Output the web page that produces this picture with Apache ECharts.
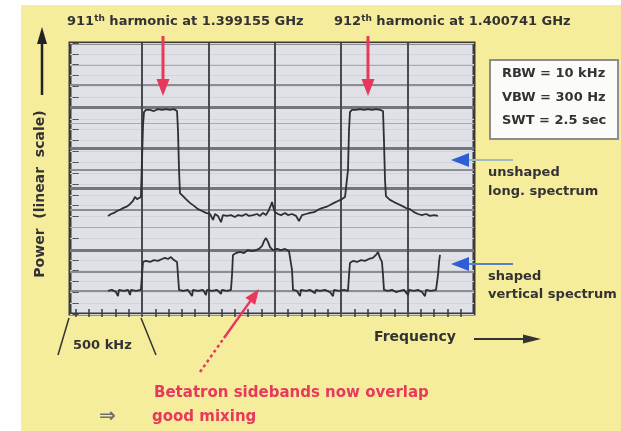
<!DOCTYPE html>
<html>
<head>
<meta charset="utf-8">
<script src="https://cdn.jsdelivr.net/npm/echarts@6/dist/echarts.min.js"></script>
<style>
  html, body { margin: 0; padding: 0; background: #ffffff; }
  #chart { width: 621px; height: 431px; }
</style>
</head>
<body>
<div id="chart"></div>
<script>
// Frequency offset across the screen in kHz (500 kHz per division); power in linear screen units (0 = bottom, 100 = top).
const unshapedSpectrum = [
  [244,36.2],[267,36.9],[289,37.3],[312,38.0],[334,38.4],[357,39.1],[380,39.5],[402,40.2],[417,40.6],[432,41.7],
  [447,43.2],[462,42.4],[477,41.7],[492,43.2],[500,56.8],[508,69.7],[515,74.5],[530,75.3],[560,75.3],[590,74.9],
  [620,75.6],[651,75.3],[681,75.6],[711,75.3],[741,75.6],[764,74.9],[771,67.9],[779,53.1],[786,44.6],[809,43.5],
  [831,42.4],[861,41.0],[892,39.9],[922,38.7],[952,38.0],[982,37.3],[1012,36.9],[1035,34.7],[1050,36.9],[1072,36.2],
  [1095,33.9],[1110,36.5],[1140,36.2],[1170,36.5],[1200,35.8],[1223,36.5],[1253,36.2],[1283,36.9],[1306,36.2],[1336,36.5],
  [1366,36.9],[1389,36.2],[1411,37.3],[1434,36.5],[1456,38.4],[1471,40.2],[1479,41.3],[1486,39.9],[1501,37.6],[1524,36.9],
  [1547,36.5],[1577,37.3],[1599,36.5],[1630,36.9],[1660,36.2],[1682,34.3],[1705,36.5],[1735,36.9],[1765,37.3],[1795,37.6],
  [1825,38.4],[1855,39.1],[1886,39.5],[1916,40.2],[1946,41.0],[1976,41.7],[2006,42.4],[2029,43.2],[2044,43.5],[2051,53.1],
  [2059,67.9],[2066,74.5],[2081,75.3],[2111,75.3],[2142,75.6],[2172,75.3],[2202,75.6],[2232,75.3],[2262,75.6],[2292,75.3],
  [2315,74.9],[2322,64.2],[2330,49.4],[2337,43.5],[2367,42.1],[2398,41.3],[2428,40.6],[2458,39.9],[2488,39.1],[2518,38.7],
  [2548,37.6],[2578,36.9],[2608,36.5],[2639,36.9],[2669,36.2],[2699,36.5],[2729,36.2]
];

const shapedSpectrum = [
  [244,8.5],[274,8.9],[304,8.1],[319,6.6],[327,8.9],[364,8.5],[395,8.9],[410,7.0],[417,8.9],[455,8.5],
  [492,8.9],[500,14.4],[508,19.2],[530,19.6],[560,19.2],[590,19.9],[620,19.6],[651,20.3],[673,20.7],[696,20.3],
  [718,21.0],[741,19.9],[764,19.2],[771,14.4],[779,8.9],[809,8.5],[846,8.9],[877,6.6],[884,8.9],[922,8.5],
  [959,8.9],[982,7.0],[989,8.9],[1027,8.5],[1065,8.9],[1095,7.4],[1102,8.9],[1140,8.5],[1170,8.9],[1178,14.4],
  [1185,21.8],[1208,22.5],[1238,22.9],[1268,22.5],[1298,23.6],[1328,23.2],[1358,23.6],[1381,24.0],[1404,25.1],[1419,26.9],
  [1434,28.0],[1449,26.6],[1464,24.7],[1486,23.6],[1517,24.0],[1547,23.6],[1577,24.0],[1607,23.2],[1622,22.9],[1630,16.2],
  [1637,8.9],[1667,8.5],[1690,6.6],[1697,8.9],[1735,8.5],[1765,8.9],[1803,7.7],[1810,8.9],[1840,8.5],[1878,8.9],
  [1916,8.1],[1938,6.6],[1946,8.9],[1983,8.5],[2021,8.9],[2051,8.5],[2059,14.4],[2066,18.8],[2089,19.6],[2119,19.2],
  [2149,19.9],[2179,19.6],[2209,20.3],[2239,20.7],[2262,21.8],[2277,22.9],[2292,20.7],[2307,19.2],[2315,14.4],[2322,8.9],
  [2352,8.5],[2383,8.9],[2413,8.1],[2443,8.5],[2473,8.9],[2503,7.0],[2511,8.9],[2548,8.5],[2578,8.9],[2608,8.1],
  [2631,6.6],[2639,8.9],[2676,8.5],[2714,8.9],[2729,14.4],[2737,19.2],[2744,21.8]
];

// Screen graticule
const divisionKHz = [500, 1000, 1500, 2000, 2500];
const heavyRulings = [76.4, 61.3, 46.5, 23.6];
const mediumRulings = [84.5, 53.1, 38.4, 15.5, 8.5];
const lightRulings = [91.9, 70.5, 32.1];
const screenKHz = { min: -42, max: 3000 };
const tickKHz = [];
for (let f = 0; f <= 2900; f += 100) tickKHz.push(f);

// Annotation texts
const harmonicLabels = [
  { n: '911', f: '1.399155' },
  { n: '912', f: '1.400741' }
];
const analyzerSettings = ['RBW = 10 kHz', 'VBW = 300 Hz', 'SWT = 2.5 sec'];

const FONT = '"DejaVu Sans", "Liberation Sans", sans-serif';
const INK = '#333333';
const RED = '#e8385c';
const BLUE = '#2d5ed6';

const chart = echarts.init(document.getElementById('chart'), null, { renderer: 'canvas' });

const rulingLines = []
  .concat(heavyRulings.map(v => ({ yAxis: v, lineStyle: { type: 'solid', color: '#74767b', width: 3 } })))
  .concat(mediumRulings.map(v => ({ yAxis: v, lineStyle: { type: 'solid', color: '#8b8d92', width: 2 } })))
  .concat(lightRulings.map(v => ({ yAxis: v, lineStyle: { type: 'solid', color: '#a9abb0', width: 1.2 } })))
  .concat(divisionKHz.map(v => ({ xAxis: v, lineStyle: { type: 'solid', color: '#4a4b4f', width: 2 } })));

function axisTicks(len) {
  return { show: true, inside: true, length: len, customValues: tickKHz, lineStyle: { color: '#3a3a3a', width: 1.5 } };
}

function arrow(x1, y1, x2, y2, color, width, head, half, dashed) {
  const dx = x2 - x1, dy = y2 - y1, L = Math.hypot(dx, dy);
  const ux = dx / L, uy = dy / L;
  const bx = x2 - ux * head, by = y2 - uy * head;
  return [
    { type: 'line', shape: { x1: x1, y1: y1, x2: bx + ux, y2: by + uy },
      style: { stroke: color, lineWidth: width, lineDash: dashed || null }, z: 20 },
    { type: 'polygon', shape: { points: [[x2, y2], [bx - uy * half, by + ux * half], [bx + uy * half, by - ux * half]] },
      style: { fill: color }, z: 20 }
  ];
}

const graphics = [
  // paper margins
  { type: 'rect', shape: { x: 0, y: 0, width: 621, height: 5 }, style: { fill: '#ffffff' }, z: 1 },
  { type: 'rect', shape: { x: 0, y: 0, width: 21, height: 431 }, style: { fill: '#ffffff' }, z: 1 }
];

// harmonic headings
[67, 334].forEach((x, i) => {
  const h = harmonicLabels[i];
  graphics.push({
    type: 'text', x: x, y: 22, z: 20,
    style: {
      text: '{n|' + h.n + '}{s|th}{t| harmonic at ' + h.f + ' GHz}',
      verticalAlign: 'middle', fill: INK,
      rich: {
        n: { fontFamily: FONT, fontWeight: 'bold', fontSize: 13, fill: INK, lineHeight: 16 },
        s: { fontFamily: FONT, fontWeight: 'bold', fontSize: 9, fill: INK, verticalAlign: 'top', padding: [0, 0, 7, 0] },
        t: { fontFamily: FONT, fontWeight: 'bold', fontSize: 13, fill: INK, lineHeight: 16 }
      }
    }
  });
});
// red arrows onto the harmonics
graphics.push(...arrow(163, 36, 163, 96, RED, 3, 17, 6.5));
graphics.push(...arrow(368, 36, 368, 96, RED, 3, 17, 6.5));

// power axis label with arrow
graphics.push(...arrow(42, 95, 42, 27, '#222222', 2.5, 17, 5));
graphics.push({
  type: 'text', x: 40, y: 194, rotation: Math.PI / 2, z: 20,
  style: { text: 'Power  (linear  scale)', font: 'bold 14px ' + FONT, fill: INK, align: 'center', verticalAlign: 'middle' }
});

// analyzer settings box
graphics.push({ type: 'rect', shape: { x: 490, y: 60, width: 128, height: 79 },
  style: { fill: '#fbfbfa', stroke: '#8d8d8d', lineWidth: 2 }, z: 20 });
analyzerSettings.forEach((t, i) => {
  graphics.push({ type: 'text', x: 502, y: 74 + i * 23.5, z: 21,
    style: { text: t, font: 'bold 13px ' + FONT, fill: INK, verticalAlign: 'middle' } });
});

// trace legends
graphics.push({ type: 'line', shape: { x1: 466, y1: 160, x2: 513, y2: 160 }, style: { stroke: '#9fbcbc', lineWidth: 2 }, z: 19 });
graphics.push({ type: 'polygon', shape: { points: [[451, 160], [469, 153], [469, 167]] }, style: { fill: BLUE }, z: 20 });
graphics.push({ type: 'line', shape: { x1: 466, y1: 264, x2: 513, y2: 264 }, style: { stroke: '#5a80cc', lineWidth: 2 }, z: 19 });
graphics.push({ type: 'polygon', shape: { points: [[451, 264], [469, 257], [469, 271]] }, style: { fill: BLUE }, z: 20 });
[['unshaped', 173], ['long. spectrum', 192], ['shaped', 277], ['vertical spectrum', 295]].forEach(([t, y]) => {
  graphics.push({ type: 'text', x: 488, y: y, z: 20,
    style: { text: t, font: 'bold 13px ' + FONT, fill: INK, verticalAlign: 'middle' } });
});

// frequency axis label
graphics.push({ type: 'text', x: 374, y: 337, z: 20,
  style: { text: 'Frequency', font: 'bold 14px ' + FONT, fill: INK, verticalAlign: 'middle' } });
graphics.push(...arrow(474, 339, 541, 339, '#333333', 2, 18, 4.5));

// one-division bracket
graphics.push({ type: 'line', shape: { x1: 69, y1: 318, x2: 58, y2: 355 }, style: { stroke: '#333333', lineWidth: 1.5 }, z: 20 });
graphics.push({ type: 'line', shape: { x1: 141, y1: 318, x2: 156, y2: 355 }, style: { stroke: '#333333', lineWidth: 1.5 }, z: 20 });
graphics.push({ type: 'text', x: 73, y: 346, z: 20,
  style: { text: '500 kHz', font: 'bold 13px ' + FONT, fill: INK, verticalAlign: 'middle' } });

// betatron sideband note
graphics.push({ type: 'line', shape: { x1: 200, y1: 372, x2: 224, y2: 338 }, style: { stroke: RED, lineWidth: 2.5, lineDash: [3, 3] }, z: 20 });
graphics.push(...arrow(224, 338, 259, 289, RED, 2.5, 15, 6));
graphics.push({ type: 'text', x: 154, y: 393, z: 20,
  style: { text: 'Betatron sidebands now overlap', font: 'bold 15px ' + FONT, fill: RED, verticalAlign: 'middle' } });
graphics.push({ type: 'text', x: 99, y: 417, z: 20,
  style: { text: '\u21D2', font: 'bold 20px ' + FONT, fill: '#6f6f6f', verticalAlign: 'middle' } });
graphics.push({ type: 'text', x: 152, y: 417, z: 20,
  style: { text: 'good mixing', font: 'bold 15px ' + FONT, fill: RED, verticalAlign: 'middle' } });

const option = {
  backgroundColor: '#f5ec9c',
  animation: false,
  grid: {
    left: 70, right: 147, top: 43, bottom: 117,
    show: true, backgroundColor: '#dfe1e6', borderColor: '#3a3a3a', borderWidth: 3
  },
  xAxis: [
    { type: 'value', min: screenKHz.min, max: screenKHz.max, position: 'bottom',
      axisLine: { show: false }, axisLabel: { show: false }, splitLine: { show: false }, axisTick: axisTicks(5) },
    { type: 'value', min: screenKHz.min, max: screenKHz.max, position: 'top',
      axisLine: { show: false }, axisLabel: { show: false }, splitLine: { show: false }, axisTick: axisTicks(3) }
  ],
  yAxis: [
    { type: 'value', min: 0, max: 100, interval: 4, position: 'left',
      axisLine: { show: false }, axisLabel: { show: false },
      axisTick: { show: true, inside: true, length: 3, lineStyle: { color: '#4a4a4a' } },
      splitLine: { show: true, lineStyle: { color: '#d2d4d9', width: 1 } } },
    { type: 'value', min: 0, max: 100, interval: 4, position: 'right',
      axisLine: { show: false }, axisLabel: { show: false },
      axisTick: { show: true, inside: true, length: 3, lineStyle: { color: '#4a4a4a' } },
      splitLine: { show: false } }
  ],
  series: [
    {
      name: 'graticule', type: 'line', data: [], z: 1, silent: true,
      markLine: { silent: true, symbol: ['none', 'none'], label: { show: false }, animation: false, data: rulingLines }
    },
    {
      name: 'unshaped long. spectrum', type: 'line', data: unshapedSpectrum, z: 5,
      showSymbol: false, smooth: false, lineStyle: { color: '#2f2f2f', width: 1.8 }
    },
    {
      name: 'shaped vertical spectrum', type: 'line', data: shapedSpectrum, z: 5,
      showSymbol: false, smooth: false, lineStyle: { color: '#2f2f2f', width: 1.8 }
    }
  ],
  graphic: { elements: graphics }
};

chart.setOption(option);
</script>
</body>
</html>
